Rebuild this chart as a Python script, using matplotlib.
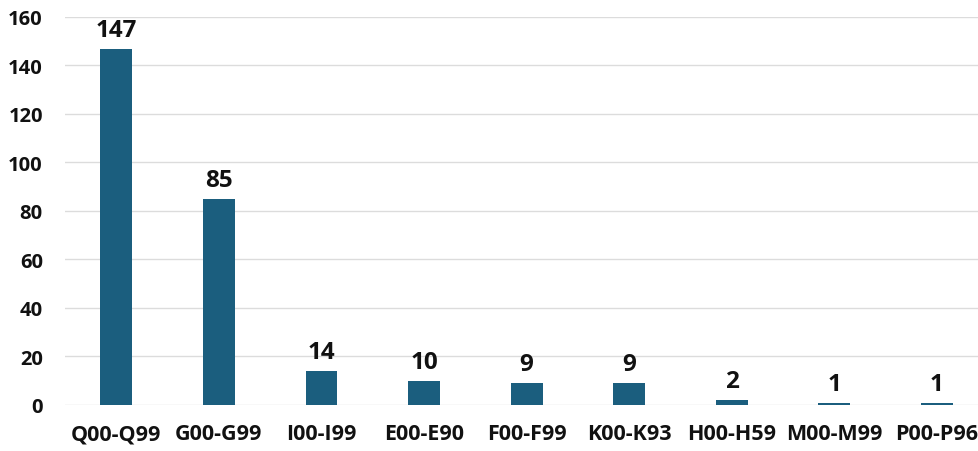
import matplotlib
matplotlib.use("Agg")
import matplotlib.pyplot as plt

categories = ["Q00-Q99", "G00-G99", "I00-I99", "E00-E90", "F00-F99",
              "K00-K93", "H00-H59", "M00-M99", "P00-P96"]
counts = [147, 85, 14, 10, 9, 9, 2, 1, 1]
yticks = [0, 20, 40, 60, 80, 100, 120, 140, 160]

plt.rcParams["font.family"] = ["Open Sans", "DejaVu Sans"]

fig = plt.figure(figsize=(9.79, 4.52), dpi=100)
ax = fig.add_axes([0.0664, 0.1018, 0.9336, 0.8584])

x = range(len(categories))
bars = ax.bar(x, counts, width=0.31, color="#1b5e7e", zorder=3)

for xi, v in zip(x, counts):
    ax.annotate(str(v), (xi, v), xytext=(0, 5), textcoords="offset points",
                ha="center", va="bottom", fontsize=17.5, fontweight="bold",
                color="#111111")

ax.set_ylim(0, 160)
ax.set_xlim(-0.5, 8.41)
ax.set_yticks(yticks)
ax.set_yticklabels([str(t) for t in yticks], fontsize=14.5,
                   fontweight="bold", color="#111111")
ax.set_xticks(list(x))
ax.set_xticklabels(categories, fontsize=15.5, fontweight="bold",
                   color="#111111")

ax.grid(axis="y", color="#dcdcdc", linewidth=1, zorder=0)
for s in ax.spines.values():
    s.set_visible(False)
ax.tick_params(axis="both", length=0)
ax.tick_params(axis="y", pad=16)
ax.tick_params(axis="x", pad=13)

fig.savefig("out.png", dpi=100)
